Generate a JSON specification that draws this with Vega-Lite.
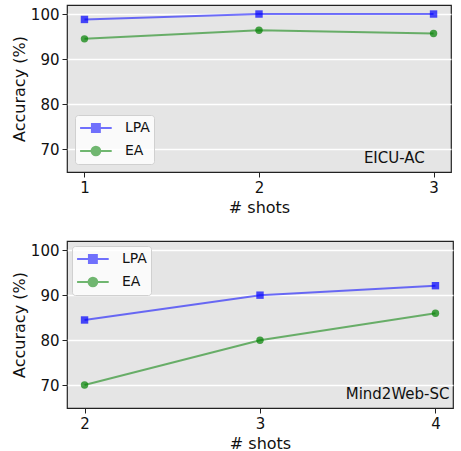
{
  "$schema": "https://vega.github.io/schema/vega-lite/v6.json",
  "padding": {"left": 10, "top": 4, "right": 4, "bottom": 1},
  "config": {
    "font": "DejaVu Sans",
    "view": {"fill": "#e5e5e5", "stroke": "#222", "strokeWidth": 1.2},
    "axis": {"labelFontSize": 15, "titleFontSize": 16, "titleFontWeight": "normal", "labelColor": "#111", "titleColor": "#111", "tickColor": "#222", "domain": false, "tickSize": 5, "labelPadding": 3, "titlePadding": 3},
    "axisX": {"grid": false, "titlePadding": 4},
    "axisY": {"gridColor": "#ffffff", "gridWidth": 1.6},
    "concat": {"spacing": 24},
    "legend": {"title": null, "fillColor": "rgba(255,255,255,0.8)", "strokeColor": "#d0d0d0", "cornerRadius": 3, "padding": 4, "offset": 8, "labelFontSize": 14, "labelColor": "#111", "symbolSize": 250, "symbolStrokeWidth": 2, "rowPadding": 6, "labelOffset": 28}
  },
  "resolve": {"scale": {"color": "independent"}, "legend": {"color": "independent"}},
  "datasets": {
    "eicu": [
      {"shots": 1, "acc": 98.8, "method": "LPA"},
      {"shots": 2, "acc": 100.0, "method": "LPA"},
      {"shots": 3, "acc": 100.0, "method": "LPA"},
      {"shots": 1, "acc": 94.5, "method": "EA"},
      {"shots": 2, "acc": 96.4, "method": "EA"},
      {"shots": 3, "acc": 95.7, "method": "EA"}
    ],
    "m2w": [
      {"shots": 2, "acc": 84.5, "method": "LPA"},
      {"shots": 3, "acc": 90.0, "method": "LPA"},
      {"shots": 4, "acc": 92.1, "method": "LPA"},
      {"shots": 2, "acc": 70.1, "method": "EA"},
      {"shots": 3, "acc": 80.0, "method": "EA"},
      {"shots": 4, "acc": 86.0, "method": "EA"}
    ]
  },
  "vconcat": [
    {
      "width": 384,
      "height": 167,
      "layer": [
        {
          "data": {"name": "eicu"},
          "mark": {"type": "line", "strokeWidth": 2, "opacity": 0.55},
          "encoding": {
            "x": {"field": "shots", "type": "quantitative", "scale": {"domain": [0.9, 3.1], "nice": false, "zero": false}, "axis": {"values": [1, 2, 3], "format": "d", "title": "# shots"}},
            "y": {"field": "acc", "type": "quantitative", "scale": {"domain": [65, 102], "nice": false, "zero": false}, "axis": {"values": [70, 80, 90, 100], "title": "Accuracy (%)"}},
            "color": {"field": "method", "type": "nominal", "scale": {"domain": ["LPA", "EA"], "range": ["#0000ff", "#008000"]},
              "legend": {"orient": "bottom-left", "symbolType": {"expr": "datum.value === 'LPA' ? 'M-1,0H3M0.5,-0.5H1.5V0.5H0.5Z' : 'M-1,0H3M1.55,0A0.55,0.55 0 1 1 0.45,0A0.55,0.55 0 1 1 1.55,0Z'"}, "symbolFillColor": {"expr": "datum.value === 'LPA' ? '#4a4af2' : '#4a9a4a'"}, "symbolStrokeColor": {"expr": "datum.value === 'LPA' ? '#6a6af0' : '#5da85d'"}}}
          }
        },
        {
          "data": {"name": "eicu"},
          "transform": [{"filter": "datum.method === 'LPA'"}],
          "mark": {"type": "point", "filled": true, "size": 55, "opacity": 0.7, "shape": "square"},
          "encoding": {
            "x": {"field": "shots", "type": "quantitative"},
            "y": {"field": "acc", "type": "quantitative"},
            "color": {"field": "method", "type": "nominal"}
          }
        },
        {
          "data": {"name": "eicu"},
          "transform": [{"filter": "datum.method === 'EA'"}],
          "mark": {"type": "point", "filled": true, "size": 55, "opacity": 0.7, "shape": "circle"},
          "encoding": {
            "x": {"field": "shots", "type": "quantitative"},
            "y": {"field": "acc", "type": "quantitative"},
            "color": {"field": "method", "type": "nominal"}
          }
        },
        {
          "data": {"values": [{"label": "EICU-AC"}]},
          "mark": {"type": "text", "align": "right", "baseline": "alphabetic", "fontSize": 15, "color": "#111"},
          "encoding": {
            "x": {"datum": 2.95, "type": "quantitative"},
            "y": {"datum": 67, "type": "quantitative"},
            "text": {"field": "label"}
          }
        }
      ]
    },
    {
      "width": 386,
      "height": 167,
      "layer": [
        {
          "data": {"name": "m2w"},
          "mark": {"type": "line", "strokeWidth": 2, "opacity": 0.55},
          "encoding": {
            "x": {"field": "shots", "type": "quantitative", "scale": {"domain": [1.9, 4.1], "nice": false, "zero": false}, "axis": {"values": [2, 3, 4], "format": "d", "title": "# shots"}},
            "y": {"field": "acc", "type": "quantitative", "scale": {"domain": [65, 102], "nice": false, "zero": false}, "axis": {"values": [70, 80, 90, 100], "title": "Accuracy (%)"}},
            "color": {"field": "method", "type": "nominal", "scale": {"domain": ["LPA", "EA"], "range": ["#0000ff", "#008000"]},
              "legend": {"orient": "top-left", "offset": 5, "symbolType": {"expr": "datum.value === 'LPA' ? 'M-1,0H3M0.5,-0.5H1.5V0.5H0.5Z' : 'M-1,0H3M1.55,0A0.55,0.55 0 1 1 0.45,0A0.55,0.55 0 1 1 1.55,0Z'"}, "symbolFillColor": {"expr": "datum.value === 'LPA' ? '#4a4af2' : '#4a9a4a'"}, "symbolStrokeColor": {"expr": "datum.value === 'LPA' ? '#6a6af0' : '#5da85d'"}}}
          }
        },
        {
          "data": {"name": "m2w"},
          "transform": [{"filter": "datum.method === 'LPA'"}],
          "mark": {"type": "point", "filled": true, "size": 55, "opacity": 0.7, "shape": "square"},
          "encoding": {
            "x": {"field": "shots", "type": "quantitative"},
            "y": {"field": "acc", "type": "quantitative"},
            "color": {"field": "method", "type": "nominal"}
          }
        },
        {
          "data": {"name": "m2w"},
          "transform": [{"filter": "datum.method === 'EA'"}],
          "mark": {"type": "point", "filled": true, "size": 55, "opacity": 0.7, "shape": "circle"},
          "encoding": {
            "x": {"field": "shots", "type": "quantitative"},
            "y": {"field": "acc", "type": "quantitative"},
            "color": {"field": "method", "type": "nominal"}
          }
        },
        {
          "data": {"values": [{"label": "Mind2Web-SC"}]},
          "mark": {"type": "text", "align": "right", "baseline": "alphabetic", "fontSize": 15, "color": "#111"},
          "encoding": {
            "x": {"datum": 4.08, "type": "quantitative"},
            "y": {"datum": 66.9, "type": "quantitative"},
            "text": {"field": "label"}
          }
        }
      ]
    }
  ]
}
